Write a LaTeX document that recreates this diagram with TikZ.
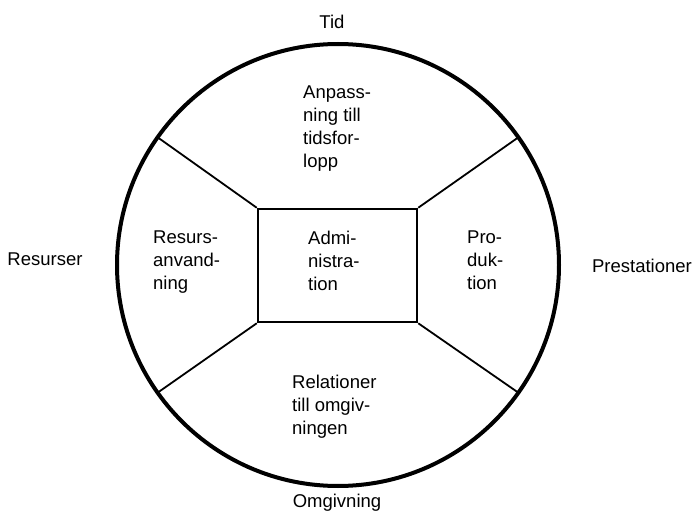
\documentclass[tikz,border=0pt]{standalone}
\usepackage{fontspec}
\setmainfont{Liberation Sans}
\begin{document}
\begin{tikzpicture}[x=1pt,y=-1pt,
  lbl/.style={inner sep=0pt, align=left, anchor=north west, font=\fontsize{18.5}{23}\selectfont},
  outer/.style={inner sep=0pt, anchor=base, font=\fontsize{18.5}{23}\selectfont},
  ring/.style={draw, circle, inner sep=0pt, minimum size=442pt, line width=4pt},
  centerbox/.style={draw, rectangle, inner sep=0pt, minimum width=159pt, minimum height=113pt, line width=2.5pt},
  spoke/.style={line width=1.8pt}]
\useasboundingbox (0,0) rectangle (697,519);
\fill[white] (0,0) rectangle (697,519);
% ring and centre box
\node[ring] (ring) at (338,265) {};
\node[centerbox] (adm) at (337.5,265.5) {};
% spoke ends on the ring
\coordinate (ul) at (157.6,137.3);
\coordinate (ur) at (518.4,137.3);
\coordinate (ll) at (157.6,392.7);
\coordinate (lr) at (518.4,392.7);
\draw[spoke] (adm.north west) -- (ul);
\draw[spoke] (adm.north east) -- (ur);
\draw[spoke] (adm.south west) -- (ll);
\draw[spoke] (adm.south east) -- (lr);
% sector texts
\node[lbl] (anp) at (303,85.7) {Anpass-\\ning till\\tidsfor-\\lopp};
\node[lbl] (res) at (153,230.7) {Resurs-\\anvand-\\ning};
\node[lbl] (admt) at (308,230.7) {Admi-\\nistra-\\tion};
\node[lbl] (pro) at (467,230.7) {Pro-\\duk-\\tion};
\node[lbl] (rel) at (292,374.7) {Relationer\\till omgiv-\\ningen};
% outer labels
\node[outer] (tid) at (332,28.5) {Tid};
\node[outer] (omg) at (337,507) {Omgivning};
\node[outer] (resurser) at (45,265) {Resurser};
\node[outer] (prest) at (642,272) {Prestationer};
\end{tikzpicture}
\end{document}
